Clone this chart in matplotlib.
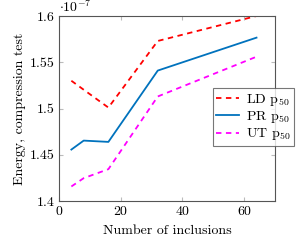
import numpy as np
import matplotlib
matplotlib.use('Agg')
import matplotlib.pyplot as plt

# Data (energy in units of 1e-7)
n_incl = [4, 8, 16, 32, 64]
ld_p50 = [1.530, 1.5203, 1.501, 1.573, 1.600]
pr_p50 = [1.4556, 1.4653, 1.4639, 1.541, 1.5766]
ut_p50 = [1.4157, 1.4247, 1.4344, 1.513, 1.556]

xticks = [0, 20, 40, 60]
yticks = [1.4, 1.45, 1.5, 1.55, 1.6]
ytick_labels = ['1.4', '1.45', '1.5', '1.55', '1.6']

plt.rcParams['font.family'] = 'serif'
plt.rcParams['font.serif'] = ['cmr10']
plt.rcParams['mathtext.fontset'] = 'cm'
plt.rcParams['axes.formatter.use_mathtext'] = True

fig = plt.figure(figsize=(2.97, 2.42), dpi=100)
ax = fig.add_axes([0.1987, 0.1694, 0.926 - 0.1987, 0.9339 - 0.1694])

ax.plot(n_incl, ld_p50, color='#ff0000', linestyle=(0, (3, 2.5)), lw=1.3, label=r'LD p$_{50}$')
ax.plot(n_incl, pr_p50, color='#0072bd', linestyle='-', lw=1.3, label=r'PR p$_{50}$')
ax.plot(n_incl, ut_p50, color='#ff00ff', linestyle=(0, (3, 2.5)), lw=1.3, label=r'UT p$_{50}$')

ax.set_xlim(0, 70)
ax.set_ylim(1.4, 1.6)
ax.set_xticks(xticks)
ax.set_yticks(yticks)
ax.set_yticklabels(ytick_labels)
ax.tick_params(direction='in', top=True, right=True, length=3, color='#bbbbbb',
               labelsize=10, pad=3)
for s in ax.spines.values():
    s.set_color('#555555')
    s.set_linewidth(0.8)

ax.set_xlabel('Number of inclusions', fontsize=10, labelpad=5)
ax.set_ylabel('Energy, compression test', fontsize=10, labelpad=3)
ax.text(0.0, 1.005, r'$\cdot 10^{-7}$', transform=ax.transAxes, fontsize=10,
        ha='left', va='bottom')

leg = ax.legend(loc='upper left', bbox_to_anchor=(0.713, 0.61), fontsize=10,
                frameon=True, fancybox=False, edgecolor='#555555',
                handlelength=1.6, handletextpad=0.5, borderpad=0.25,
                labelspacing=0.1, borderaxespad=0)
leg.get_frame().set_linewidth(0.8)

fig.savefig('out.png', dpi=100)
